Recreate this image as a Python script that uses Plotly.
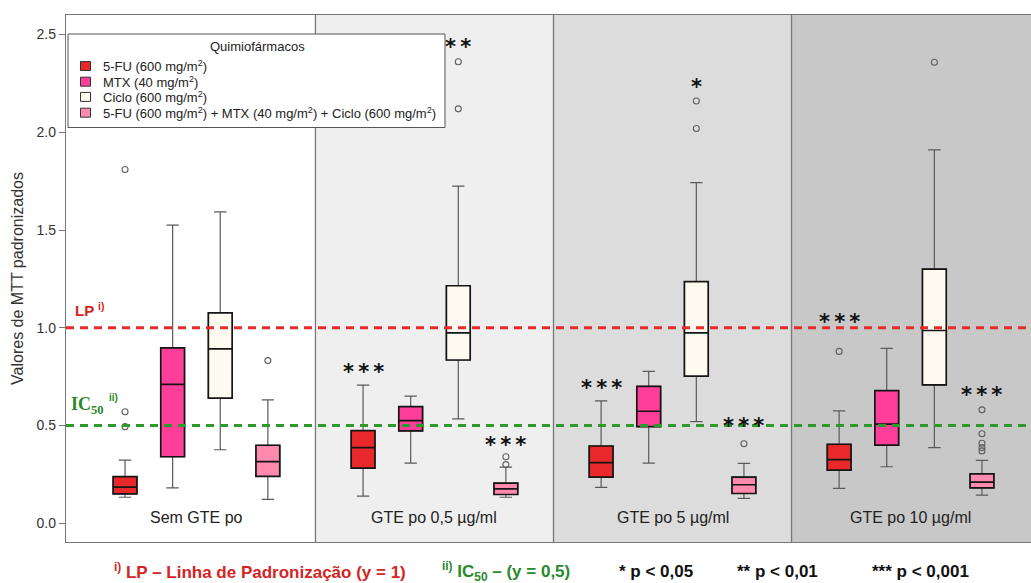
import plotly.graph_objects as go

W, H = 1031, 583
ML, MR, MT, MB = 66, 0, 15, 41

SANS = "Liberation Sans, Arial, sans-serif"
SERIF = "Liberation Serif, DejaVu Serif, serif"

groups = ["Sem GTE po", "GTE po 0,5 µg/ml", "GTE po 5 µg/ml", "GTE po 10 µg/ml"]

names = [
    "5-FU (600 mg/m<sup>2</sup>)",
    "MTX (40 mg/m<sup>2</sup>)",
    "Ciclo (600 mg/m<sup>2</sup>)",
    "5-FU (600 mg/m<sup>2</sup>) + MTX (40 mg/m<sup>2</sup>) + Ciclo (600 mg/m<sup>2</sup>)",
]
colors = ["#E8282B", "#FF3E9A", "#FFFAF0", "#FF8AAE"]

# five-number summaries, one entry per GTE group
fu_low = [0.133, 0.139, 0.183, 0.178]
fu_q1 = [0.150, 0.282, 0.236, 0.272]
fu_med = [0.185, 0.387, 0.310, 0.325]
fu_q3 = [0.238, 0.474, 0.395, 0.404]
fu_high = [0.323, 0.707, 0.626, 0.575]
fu_out = [[0.494, 0.570, 1.810], [], [], [0.879]]

mtx_low = [0.181, 0.308, 0.308, 0.289]
mtx_q1 = [0.340, 0.472, 0.494, 0.400]
mtx_med = [0.710, 0.525, 0.573, 0.507]
mtx_q3 = [0.897, 0.597, 0.700, 0.678]
mtx_high = [1.525, 0.650, 0.777, 0.895]
mtx_out = [[], [], [], []]

ciclo_low = [0.376, 0.534, 0.520, 0.387]
ciclo_q1 = [0.640, 0.835, 0.753, 0.708]
ciclo_med = [0.892, 0.974, 0.974, 0.986]
ciclo_q3 = [1.076, 1.215, 1.236, 1.300]
ciclo_high = [1.593, 1.725, 1.742, 1.910]
ciclo_out = [[], [2.120, 2.361], [2.019, 2.160], [2.358]]

combo_low = [0.122, 0.133, 0.127, 0.144]
combo_q1 = [0.240, 0.147, 0.152, 0.181]
combo_med = [0.315, 0.176, 0.197, 0.210]
combo_q3 = [0.399, 0.205, 0.236, 0.252]
combo_high = [0.631, 0.287, 0.306, 0.322]
combo_out = [[0.832], [0.300, 0.340], [0.407], [0.370, 0.387, 0.409, 0.458, 0.580]]

# significance marks and the height they are written at
fu_sig = ["", "***", "***", "***"]
fu_sig_y = [None, 0.797, 0.715, 1.054]
mtx_sig = ["", "", "", ""]
mtx_sig_y = [None, None, None, None]
ciclo_sig = ["", "**", "*", ""]
ciclo_sig_y = [None, 2.460, 2.257, None]
combo_sig = ["", "***", "***", "***"]
combo_sig_y = [None, 0.426, 0.524, 0.683]

lp_value = 1.0
ic50_value = 0.5

series = [
    (fu_low, fu_q1, fu_med, fu_q3, fu_high, fu_out, fu_sig, fu_sig_y),
    (mtx_low, mtx_q1, mtx_med, mtx_q3, mtx_high, mtx_out, mtx_sig, mtx_sig_y),
    (ciclo_low, ciclo_q1, ciclo_med, ciclo_q3, ciclo_high, ciclo_out, ciclo_sig, ciclo_sig_y),
    (combo_low, combo_q1, combo_med, combo_q3, combo_high, combo_out, combo_sig, combo_sig_y),
]

SLOTS = 5  # four boxes plus one empty slot per group


def xpos(g, s):
    return SLOTS * g + s + 1


X_RANGE = [-0.24, 20.03]
Y_RANGE = [-0.096, 2.6]

# helpers converting page pixels to paper coordinates (for decorations only)
PW = W - ML - MR
PH = H - MT - MB


def px(x):
    return (x - ML) / PW


def py(y):
    return (H - MB - y) / PH


fig = go.Figure()
annotations = []
STAR_SEP = "\u2009"

for s, (low, q1, med, q3, high, outs, sig, sig_y) in enumerate(series):
    xs = [xpos(g, s) for g in range(len(groups))]
    # whiskers (grey)
    fig.add_trace(go.Box(
        x=xs, lowerfence=low, q1=q1, median=med, q3=q3, upperfence=high,
        width=0.5, whiskerwidth=0.52, orientation="v",
        fillcolor="rgba(0,0,0,0)", line=dict(color="#5a5a5a", width=1.2),
        boxpoints=False, showlegend=False, hoverinfo="skip",
    ))
    # boxes and medians (black outline)
    fig.add_trace(go.Box(
        x=xs, lowerfence=q1, q1=q1, median=med, q3=q3, upperfence=q3,
        width=0.5, whiskerwidth=0, orientation="v",
        fillcolor=colors[s], line=dict(color="#151515", width=1.7),
        boxpoints=False, showlegend=False, name=names[s],
    ))
    ox, oy = [], []
    for g, vals in enumerate(outs):
        for v in vals:
            ox.append(xpos(g, s))
            oy.append(v)
    if ox:
        fig.add_trace(go.Scatter(
            x=ox, y=oy, mode="markers", showlegend=False,
            marker=dict(symbol="circle-open", size=6, color="#606060",
                        line=dict(width=1.1)),
        ))
    for g, lab in enumerate(sig):
        if lab:
            annotations.append(dict(
                x=xpos(g, s), y=sig_y[g], xref="x", yref="y",
                text="<b>" + STAR_SEP.join(lab) + "</b>",
                showarrow=False, xanchor="center", yanchor="middle", yshift=-5,
                font=dict(family="DejaVu Sans, sans-serif", size=21, color="#111"),
            ))

shapes = []
panel_fill = ["#EFEFEF", "#DCDCDC", "#C8C8C8"]
for i, col in enumerate(panel_fill):
    x0 = SLOTS * (i + 1)
    shapes.append(dict(type="rect", xref="x", yref="paper", x0=x0,
                       x1=X_RANGE[1] if i == len(panel_fill) - 1 else x0 + SLOTS,
                       y0=0, y1=1, fillcolor=col, line=dict(width=0), layer="below"))
for i in range(1, len(groups)):
    shapes.append(dict(type="line", xref="x", yref="paper", x0=SLOTS * i, x1=SLOTS * i,
                       y0=0, y1=1, line=dict(color="#777777", width=1.3), layer="below"))

# reference lines
shapes.append(dict(type="line", xref="paper", yref="y", x0=0, x1=1, y0=lp_value, y1=lp_value,
                   line=dict(color="#E52C2C", width=3.2, dash="8px,6px")))
shapes.append(dict(type="line", xref="paper", yref="y", x0=0, x1=1, y0=ic50_value, y1=ic50_value,
                   line=dict(color="#2E9A2E", width=3.2, dash="8px,6px")))

# group labels
for g, lab in enumerate(groups):
    annotations.append(dict(
        x=SLOTS * g + 2.5, y=0.027, xref="x", yref="y", text=lab, showarrow=False,
        xanchor="center", yanchor="middle", font=dict(family=SANS, size=16, color="#222")))

# LP / IC50 tags
annotations.append(dict(x=px(73), y=py(309), xref="paper", yref="paper", xanchor="left",
                        yanchor="middle", showarrow=False, text="<b>LP <sup>i)</sup></b>",
                        font=dict(family=SANS, size=15, color="#D42424")))
annotations.append(dict(x=px(69), y=py(405), xref="paper", yref="paper", xanchor="left",
                        yanchor="middle", showarrow=False, text="<b>IC<sub>50</sub></b>",
                        font=dict(family=SERIF, size=18, color="#2A8A2A")))
annotations.append(dict(x=px(107), y=py(397), xref="paper", yref="paper", xanchor="left",
                        yanchor="middle", showarrow=False, text="<b>ii)</b>",
                        font=dict(family=SANS, size=10, color="#2A8A2A")))

# legend panel
shapes.append(dict(type="rect", xref="paper", yref="paper", x0=px(68), x1=px(445),
                   y0=py(127.5), y1=py(34), fillcolor="white",
                   line=dict(color="#555555", width=1)))
annotations.append(dict(x=px(257), y=py(46), xref="paper", yref="paper", text="Quimiofármacos",
                        xanchor="center", yanchor="middle", showarrow=False,
                        font=dict(family=SANS, size=13, color="#222")))
item_y = [66, 81.7, 96.9, 112.7]
for s in range(4):
    yc = item_y[s]
    shapes.append(dict(type="rect", xref="paper", yref="paper", x0=px(80.5), x1=px(90.5),
                       y0=py(yc + 4.5), y1=py(yc - 4.5), fillcolor=colors[s],
                       line=dict(color="#333333", width=1)))
    annotations.append(dict(x=px(101), y=py(yc), xref="paper", yref="paper", xanchor="left",
                            yanchor="middle", text=names[s], showarrow=False,
                            font=dict(family=SANS, size=13, color="#222")))

# caption below the plot
cap_font = dict(family=SANS, size=17)
cap_y = py(571)
captions = [
    (112, "<b><sup>i)</sup> LP – Linha de Padronização (y = 1)</b>", "#D42424"),
    (440, "<b><sup>ii)</sup> IC<sub>50</sub> – (y = 0,5)</b>", "#2A8A2A"),
    (617, "<b>* p &lt; 0,05</b>", "#111111"),
    (735, "<b>** p &lt; 0,01</b>", "#111111"),
    (870, "<b>*** p &lt; 0,001</b>", "#111111"),
]
for x0, txt, col in captions:
    annotations.append(dict(x=px(x0), y=cap_y, xref="paper", yref="paper", xanchor="left",
                            yanchor="middle", text=txt, showarrow=False,
                            font=dict(cap_font, color=col)))

fig.update_layout(
    width=W, height=H,
    margin=dict(l=ML, r=MR, t=MT, b=MB, pad=0),
    paper_bgcolor="white", plot_bgcolor="white",
    boxmode="overlay", showlegend=False,
    shapes=shapes, annotations=annotations,
    font=dict(family=SANS, color="#333"),
)
fig.update_xaxes(range=X_RANGE, showgrid=False, zeroline=False, showticklabels=False,
                 ticks="", showline=True, linecolor="#777777", linewidth=1.3, mirror=True)
fig.update_yaxes(range=Y_RANGE, showgrid=False, zeroline=False, tick0=0, dtick=0.5,
                 tickformat=".1f", ticks="outside", ticklen=6, tickcolor="#777777",
                 tickwidth=1.2, showline=True, linecolor="#777777", linewidth=1.3,
                 tickfont=dict(family=SANS, size=14, color="#333"),
                 title=dict(text="Valores de MTT padronizados", standoff=8,
                            font=dict(family=SANS, size=16, color="#333")))

fig.write_html("out.html")
